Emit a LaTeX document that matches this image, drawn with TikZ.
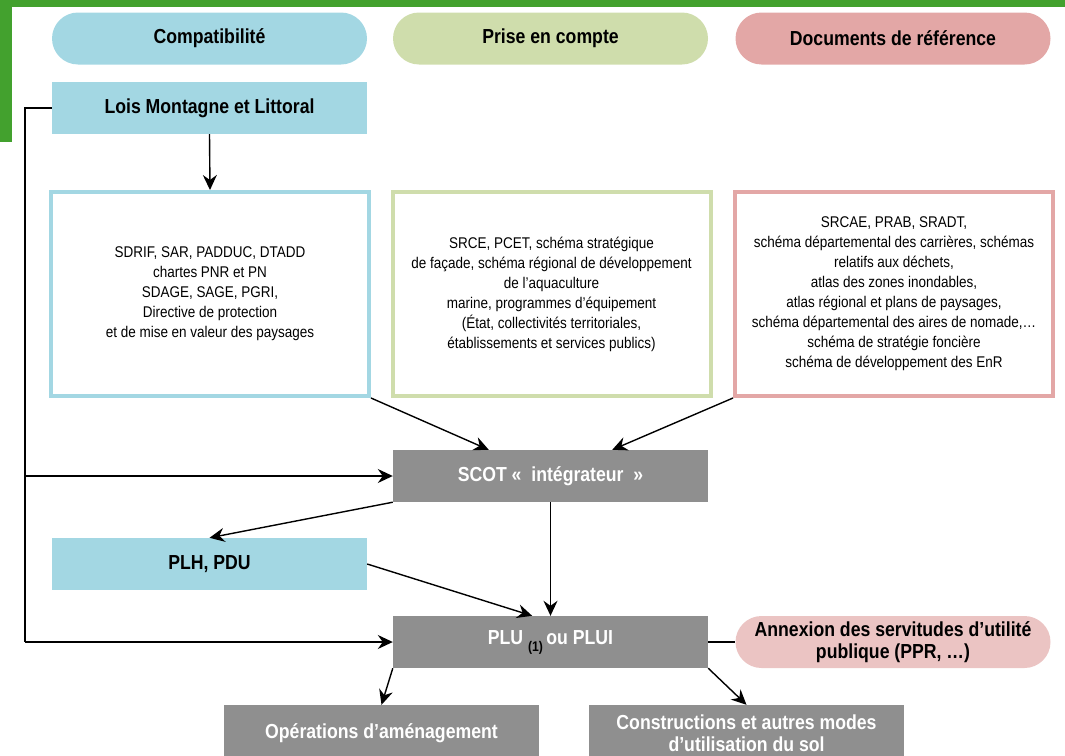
\documentclass[tikz,border=0pt]{standalone}
\usepackage{fontspec}
\setmainfont{Liberation Sans}[FakeStretch=0.87]
\usetikzlibrary{arrows.meta,positioning}

\definecolor{vertcadre}{HTML}{43A12E}
\definecolor{bleu}{HTML}{A3D7E3}
\definecolor{vertclair}{HTML}{CFDDAC}
\definecolor{rose}{HTML}{E3A7A6}
\definecolor{roseclair}{HTML}{EBC4C3}
\definecolor{gris}{HTML}{8F8F8F}

\tikzset{
  titre/.style={font=\fontsize{20.3}{22}\selectfont\bfseries, align=center},
  pilule/.style={titre, rounded corners=26pt, minimum width=315pt, minimum height=52pt, inner sep=0pt},
  boite/.style={titre, minimum width=315pt, minimum height=52pt, inner sep=0pt},
  cadre/.style={line width=4pt, fill=white, minimum width=318pt, minimum height=204pt, inner sep=0pt,
    align=center, font=\fontsize{15.5}{20}\selectfont},
  fleche/.style={-{Stealth[length=15pt,width=14pt,inset=5pt]}, line width=1.4pt},
  trait/.style={line width=1.4pt},
}

\begin{document}
\begin{tikzpicture}[x=1pt,y=1pt,yscale=-1,xscale=1]
\useasboundingbox (0,0) rectangle (1065,755);

%Shape: green frame
\fill[vertcadre] (0,0) rectangle (1065,7);
\fill[vertcadre] (0,0) rectangle (12,142);

% Headers
\node[pilule, fill=bleu] (compat) at (209.5,38.5) {Compatibilité};
\node[pilule, fill=vertclair] (prise) at (550.5,38.5) {Prise en compte};
\node[pilule, fill=rose] (docref) at (893,38.5) {Documents de référence};

% Lois
\node[boite, fill=bleu] (lois) at (209.5,108) {Lois Montagne et Littoral};

% Frames
\node[cadre, draw=bleu] (cadreA) at (210,294) {SDRIF, SAR, PADDUC, DTADD\\chartes PNR et PN\\SDAGE, SAGE, PGRI,\\Directive de protection\\et de mise en valeur des paysages};
\node[cadre, draw=vertclair] (cadreB) at (551.5,294) {SRCE, PCET, schéma stratégique\\de façade, schéma régional de développement\\de l’aquaculture\\marine, programmes d’équipement\\(État, collectivités territoriales,\\établissements et services publics)};
\node[cadre, draw=rose] (cadreC) at (894,294) {SRCAE, PRAB, SRADT,\\schéma départemental des carrières, schémas\\relatifs aux déchets,\\atlas des zones inondables,\\atlas régional et plans de paysages,\\schéma départemental des aires de nomade,…\\schéma de stratégie foncière\\schéma de développement des EnR};

% Documents
\node[boite, fill=gris, text=white] (scot) at (550.5,476) {SCOT «\ \ intégrateur\ \ »};
\node[boite, fill=bleu] (plh) at (209.5,564) {PLH, PDU};
\node[boite, fill=gris, text=white] (plu) at (550.5,642) {PLU\ \raisebox{-7pt}{\fontsize{14}{14}\selectfont\color{black}(1)}\,ou PLUI};
\node[pilule, fill=roseclair] (annexion) at (893,642) {Annexion des servitudes d’utilité\\publique (PPR, …)};
\node[boite, fill=gris, text=white, minimum height=56pt] (operations) at (381.5,733) {Opérations d’aménagement};
\node[boite, fill=gris, text=white, minimum height=56pt] (constructions) at (746.5,733) {Constructions et autres modes\\d’utilisation du sol};

% Left connector
\coordinate (bordhaut) at (25,108);
\coordinate (bordscot) at (25,476);
\coordinate (bordplu) at (25,642);
\draw[trait] (lois.west) -- (bordhaut) -- (bordplu);
\draw[fleche] (bordscot) -- (scot.west);
\draw[fleche] (bordplu) -- (plu.west);

% Arrows
\draw[fleche] (lois.south) -- (cadreA.north);
\draw[fleche] (cadreA.south east) -- (scot.157);
\draw[fleche] (cadreC.south west) -- (scot.23);
\draw[fleche] (scot.south west) -- (plh.north);
\draw[fleche] (plh.east) -- (plu.125);
\draw[fleche] (scot.south) -- (plu.north);
\draw[fleche] (plu.south west) -- (operations.north);
\draw[fleche] (plu.south east) -- (constructions.north);
\draw[trait] (plu.east) -- (annexion.west);

\end{tikzpicture}
\end{document}
